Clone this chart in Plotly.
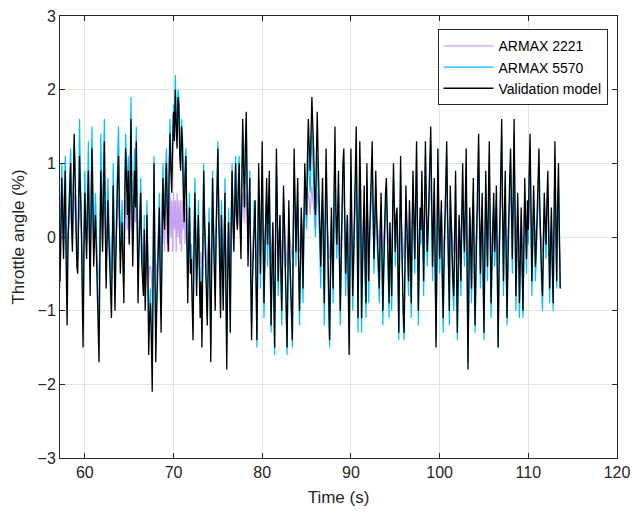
import numpy as np
import plotly.graph_objects as go

t_start = 57.2
t_step = 0.1

validation = [
    -0.6, 0.2, 0.8, 0.3, -0.3, 0.5, 0.9, -0.4, -1.2, -0.1, 0.4, 0.7, 1.0, 0.2, -0.2, 0.6, 1.4, 0.8, 0.1, -0.4,
    -0.5, 0.4, 1.1, 0.6, 0.2, -0.7, -1.5, -0.2, 0.6, 0.1, -0.3, 0.4, 0.9, 0.1, -0.8, 0.3, 1.2, 0.5, -0.4, 0.0,
    0.3, -0.2, -0.6, -1.1, -1.7, -0.3, 0.9, 0.4, -0.2, 0.6, 1.3, 0.2, -0.7, -0.1, 0.5, 0.0, -0.3, -0.8, -1.1, -0.2,
    0.7, -0.2, -1.0, -0.3, 0.4, 0.8, 1.1, 0.3, -0.5, -0.1, 0.2, -0.4, -0.9, 0.4, 1.2, 0.8, 0.3, 0.9, -0.1, 0.6,
    1.6, 0.5, -0.4, 0.3, 0.9, 0.4, 1.3, 0.2, -0.9, -0.2, 0.1, 0.6, -0.3, -0.6, -0.8, 0.1, -1.0, -0.5, 0.3, -0.4,
    -1.6, -1.1, -0.9, -1.4, -2.1, -0.5, 1.0, -0.4, -1.7, -1.0, -0.6, -0.1, 0.4, -0.6, -1.3, -0.2, 0.8, 0.3, 0.1, 0.7,
    1.0, 0.3, -0.2, 0.8, 1.4, 0.9, 0.6, 1.2, 1.7, 1.3, 2.0, 1.5, 1.2, 1.9, 1.8, 1.1, 0.9, 1.5, 1.3, 0.6,
    0.2, 0.8, 1.1, 0.1, -0.9, -0.2, 0.4, -0.5, -0.3, -0.9, -1.4, -0.3, 0.6, 0.0, -0.8, -0.2, 0.3, -0.4, -1.1, -0.6,
    -1.5, -0.3, 0.9, 0.2, -0.4, -0.9, -1.2, -0.5, 0.2, -0.6, -1.7, -0.4, 0.8, 0.1, -0.6, -1.0, 0.0, 0.5, 1.2, 0.3,
    -0.5, -1.1, 0.3, -0.4, -1.0, -0.2, 0.6, -0.7, -1.8, -0.6, 0.2, -0.5, -1.3, 0.1, 0.9, 0.2, -0.2, 0.4, 1.0, 0.3,
    0.1, 0.6, 1.0, 0.2, -0.3, 0.7, 1.6, 0.9, 0.4, 1.2, 1.7, 0.6, -0.4, 0.3, 0.8, -0.5, -1.4, -0.6, -0.2, 0.4,
    0.5, -0.6, -1.4, -0.2, 1.0, 0.3, -0.5, 0.4, 1.3, 0.1, -0.9, -0.2, 0.4, 0.8, -0.1, 0.5, 0.9, -0.3, -1.2, -0.4,
    0.2, -0.7, -1.5, -0.1, 1.2, 0.4, -0.6, -0.1, 0.3, -0.4, -1.0, -0.2, 0.7, 0.2, -0.3, -0.9, -1.5, -0.5, 0.5, -0.2,
    -0.6, -0.9, -1.4, 0.1, 1.2, 0.5, -0.2, 0.3, 0.8, -0.3, -1.0, -0.4, 0.4, 0.0, -0.7, 0.2, 1.0, 0.6, 0.3, 1.1,
    1.6, 1.2, 0.9, 1.4, 1.9, 1.5, 1.2, 0.6, 0.3, 1.0, 1.7, 1.1, 0.6, 0.1, -0.4, 0.3, 0.8, -0.1, -0.9, 0.2,
    1.2, 0.5, -0.3, -0.8, -1.4, -0.4, 0.4, -0.2, -0.7, 0.6, 1.5, 0.4, -0.1, 0.3, 0.9, -0.2, -1.0, -0.3, 0.6, 1.0,
    1.2, 0.4, -0.5, -0.1, 0.3, -0.6, -1.6, -0.2, 1.2, 0.2, -0.8, -0.3, 0.4, 0.9, 1.5, 0.2, -1.1, 0.1, 1.3, 0.6,
    -1.1, -0.4, 0.2, 0.7, -0.4, -0.9, 1.0, 0.3, -0.6, 0.0, 0.5, 0.9, 1.3, 0.4, -0.3, 0.2, 0.9, 0.3, -0.1, -0.5,
    -0.7, 0.1, 0.6, -0.2, -1.0, -0.4, 0.3, 0.6, 0.8, 0.2, -0.4, -0.9, 0.2, -0.3, -0.8, 0.3, 1.0, 0.4, -0.2, 0.3,
    0.4, -0.4, -1.3, 0.0, 1.1, 0.2, -0.5, -1.0, -1.3, -0.1, 0.7, 0.2, -0.2, -0.6, 0.5, 0.0, -0.9, 0.1, 0.9, 0.3,
    -0.3, 0.5, 1.3, 0.2, -1.0, -0.3, 0.4, 0.1, 0.9, 0.2, -0.6, 0.4, 1.3, 0.5, -0.2, 0.1, 0.6, 1.1, 1.5, 0.6,
    -0.4, 0.2, 0.8, -0.4, -1.5, -0.2, 1.2, 0.4, -0.3, 0.1, 0.5, -0.5, -1.1, -0.3, 0.2, 0.7, 1.3, 0.3, -0.5, -1.0,
    0.7, 0.2, -0.2, -0.6, -0.8, 0.1, 0.9, -0.3, -1.3, -0.4, 0.3, -0.1, -0.6, 0.3, 1.0, 0.2, -0.2, 0.5, 1.2, -0.4,
    -1.8, -0.6, 0.4, -0.1, -0.7, 0.2, 0.8, -0.3, -1.2, -0.4, 0.2, 0.8, 1.4, 0.3, -0.5, 0.1, 0.6, -0.4, -1.3, -0.2,
    0.9, 0.2, -0.4, 0.5, 1.3, 0.2, -0.9, -0.3, 0.3, 0.6, -0.2, 0.1, 0.7, -0.5, -1.5, -0.4, 0.4, 0.9, 1.6, 0.4,
    -0.6, 0.3, 0.9, -0.2, -1.1, -0.3, 0.5, 0.8, 1.2, 0.3, -0.3, 0.6, 1.6, 0.4, -0.8, -0.2, 0.6, 0.0, -0.9, -0.3,
    0.4, -0.3, -1.0, -0.1, 0.8, 0.2, -0.3, 0.5, 0.1, 0.9, 1.4, 0.4, -0.6, 0.0, 0.7, 0.2, -0.4, -0.1, 0.3, 0.8,
    1.2, 0.4, -0.2, -0.5, -0.8, 0.0, 0.6, 0.2, -0.1, 0.5, 0.9, 0.1, -0.7, -0.2, 0.4, -0.3, -0.9, 0.2, 1.3, 0.3,
    -0.6, 0.4, 1.0, 0.1, -0.7,
]

armax_5570 = [
    -0.4, 0.5, 1.0, 0.5, -0.1, 0.7, 1.1, -0.2, -0.9, 0.1, 0.6, 0.9, 1.2, 0.4, 0.1, 0.8, 1.3, 1.0, 0.3, -0.2,
    -0.3, 0.7, 1.6, 0.8, 0.4, -0.4, -1.2, 0.1, 0.9, 0.3, -0.1, 0.6, 1.3, 0.4, -0.5, 0.6, 1.5, 0.8, -0.2, 0.2,
    0.6, 0.1, -0.4, -0.8, -1.3, 0.0, 1.4, 0.7, 0.1, 0.9, 1.6, 0.5, -0.5, 0.2, 0.8, 0.3, 0.0, -0.5, -0.7, 0.1,
    1.0, 0.1, -0.7, 0.0, 0.7, 1.1, 1.5, 0.6, -0.2, 0.2, 0.5, -0.1, -0.6, 0.7, 1.4, 1.0, 0.6, 1.1, 0.2, 0.9,
    1.9, 0.8, -0.1, 0.6, 1.2, 0.7, 1.5, 0.5, -0.6, 0.1, 0.4, 0.8, 0.0, -0.3, -0.5, 0.3, -0.8, -0.3, 0.5, -0.2,
    -1.4, -0.9, -0.7, -1.2, -1.8, -0.3, 1.1, -0.2, -1.4, -0.8, -0.4, 0.1, 0.6, -0.4, -1.1, 0.0, 1.0, 0.5, 0.3, 0.9,
    1.2, 0.5, 0.0, 1.0, 1.6, 1.1, 0.8, 1.4, 1.8, 1.5, 2.2, 1.7, 1.4, 2.0, 1.9, 1.3, 1.0, 1.6, 1.4, 0.8,
    0.4, 1.0, 1.2, 0.3, -0.7, 0.0, 0.6, -0.3, -0.1, -0.7, -1.2, -0.1, 0.8, 0.2, -0.6, 0.0, 0.5, -0.2, -0.9, -0.4,
    -1.3, -0.1, 1.0, 0.4, -0.2, -0.7, -1.0, -0.3, 0.4, -0.4, -1.5, -0.2, 0.9, 0.3, -0.4, -0.8, 0.2, 0.7, 1.3, 0.5,
    -0.4, -0.9, 0.5, -0.2, -0.8, 0.0, 0.8, -0.5, -1.6, -0.4, 0.4, -0.3, -1.1, 0.3, 1.0, 0.4, 0.0, 0.6, 1.1, 0.5,
    0.3, 0.8, 1.1, 0.4, -0.1, 0.8, 1.5, 1.0, 0.6, 1.3, 1.6, 0.7, -0.2, 0.4, 0.9, -0.3, -1.2, -0.4, 0.0, 0.5,
    0.4, -0.8, -1.5, -0.4, 0.8, 0.1, -0.7, 0.2, 1.0, -0.1, -1.1, -0.4, 0.2, 0.6, -0.4, 0.3, 0.7, -0.5, -1.3, -0.6,
    0.0, -0.9, -1.6, -0.3, 1.0, 0.2, -0.8, -0.3, 0.1, -0.6, -1.2, -0.4, 0.5, 0.0, -0.5, -1.1, -1.6, -0.7, 0.3, -0.4,
    -0.8, -1.1, -1.5, -0.1, 1.0, 0.3, -0.4, 0.1, 0.6, -0.5, -1.2, -0.6, 0.2, -0.2, -0.9, 0.0, 0.8, 0.4, 0.1, 0.8,
    1.2, 0.8, 0.6, 1.0, 1.5, 1.1, 0.8, 0.3, 0.0, 0.6, 1.1, 0.7, 0.3, -0.2, -0.7, 0.1, 0.5, -0.4, -1.2, 0.0,
    0.9, 0.2, -0.6, -1.1, -1.5, -0.6, 0.2, -0.4, -0.9, 0.4, 1.2, 0.2, -0.3, 0.1, 0.6, -0.4, -1.2, -0.5, 0.4, 0.8,
    1.0, 0.2, -0.8, -0.3, 0.1, -0.8, -1.5, -0.4, 0.9, 0.0, -1.0, -0.5, 0.2, 0.7, 1.2, 0.0, -1.3, -0.1, 1.1, 0.4,
    -1.3, -0.6, 0.0, 0.5, -0.6, -1.1, 0.8, 0.1, -0.9, -0.2, 0.3, 0.7, 1.1, 0.2, -0.5, 0.0, 0.7, 0.1, -0.3, -0.7,
    -0.9, -0.1, 0.4, -0.4, -1.2, -0.6, 0.1, 0.4, 0.6, 0.0, -0.7, -1.1, 0.0, -0.5, -1.0, 0.1, 0.8, 0.2, -0.4, 0.1,
    0.2, -0.6, -1.4, -0.2, 0.9, 0.0, -0.7, -1.2, -1.4, -0.3, 0.5, 0.0, -0.4, -0.8, 0.3, -0.2, -1.1, -0.1, 0.7, 0.1,
    -0.5, 0.3, 1.1, 0.0, -1.2, -0.5, 0.2, -0.1, 0.7, 0.0, -0.8, 0.2, 1.1, 0.3, -0.4, -0.1, 0.4, 0.9, 1.3, 0.4,
    -0.6, 0.0, 0.6, -0.6, -1.4, -0.4, 1.0, 0.2, -0.5, -0.1, 0.3, -0.7, -1.3, -0.5, 0.0, 0.5, 1.1, 0.1, -0.7, -1.2,
    0.5, 0.0, -0.4, -0.8, -1.0, -0.1, 0.7, -0.5, -1.4, -0.6, 0.1, -0.3, -0.8, 0.1, 0.8, 0.0, -0.4, 0.3, 1.0, -0.6,
    -1.7, -0.8, 0.2, -0.3, -0.9, 0.0, 0.6, -0.5, -1.3, -0.6, 0.0, 0.6, 1.2, 0.1, -0.7, -0.1, 0.4, -0.6, -1.4, -0.4,
    0.7, 0.0, -0.6, 0.3, 1.1, 0.0, -1.1, -0.5, 0.1, 0.4, -0.4, -0.1, 0.5, -0.7, -1.5, -0.6, 0.2, 0.7, 1.4, 0.2,
    -0.8, 0.1, 0.7, -0.4, -1.2, -0.5, 0.3, 0.6, 1.0, 0.1, -0.5, 0.4, 1.4, 0.2, -1.0, -0.4, 0.4, -0.2, -1.1, -0.5,
    0.2, -0.5, -1.1, -0.3, 0.6, 0.0, -0.5, 0.3, -0.1, 0.7, 1.2, 0.2, -0.8, -0.2, 0.5, 0.0, -0.6, -0.3, 0.1, 0.6,
    1.0, 0.2, -0.4, -0.7, -1.0, -0.2, 0.4, 0.0, -0.3, 0.3, 0.7, -0.1, -0.9, -0.4, 0.2, -0.5, -1.0, 0.0, 1.1, 0.1,
    -0.7, 0.2, 0.8, -0.1, -0.7,
]

armax_2221 = [
    -0.7, -0.2, 0.3, 0.1, -0.2, 0.2, 0.4, -0.1, -0.4, 0.0, 0.2, 0.4, 0.5, 0.1, -0.1, 0.3, 0.6, 0.3, 0.0, -0.2,
    -0.3, 0.2, 0.5, 0.2, 0.1, -0.2, -0.5, 0.0, 0.3, 0.1, -0.1, 0.2, 0.4, 0.0, -0.3, 0.1, 0.5, 0.2, -0.2, 0.0,
    0.2, -0.1, -0.3, -0.4, -0.6, -0.1, 0.4, 0.2, -0.1, 0.3, 0.5, 0.1, -0.3, 0.0, 0.3, 0.0, -0.1, -0.3, -0.4, 0.0,
    0.3, -0.1, -0.4, -0.1, 0.2, 0.4, 0.5, 0.1, -0.2, 0.0, 0.1, -0.2, -0.4, 0.2, 0.5, 0.3, 0.1, 0.4, -0.1, 0.2,
    0.6, 0.2, -0.2, 0.1, 0.4, 0.2, 0.5, 0.1, -0.4, -0.1, 0.0, 0.3, -0.2, -0.3, -0.4, 0.0, -0.5, -0.2, 0.2, -0.2,
    -0.6, -0.4, -0.4, -0.5, -0.8, -0.2, 0.8, 0.0, -0.6, -0.4, -0.3, 0.0, 0.2, -0.2, -0.2, 0.6, -0.1, 0.6, -0.2, 0.5,
    0.6, -0.1, 0.5, -0.2, 0.6, 0.0, 0.5, -0.2, 0.6, 0.1, 0.5, -0.2, 0.6, 0.0, 0.5, -0.1, 0.5, -0.2, 0.5, 0.1,
    0.5, -0.1, 0.4, -0.2, -0.3, 0.0, 0.3, -0.1, -0.1, -0.3, -0.5, -0.1, 0.3, 0.0, -0.3, -0.1, 0.2, -0.1, -0.4, -0.2,
    -0.5, -0.1, 0.6, 0.1, -0.1, -0.3, -0.4, -0.1, 0.2, -0.2, -0.5, -0.1, 0.6, 0.1, -0.2, -0.3, 0.1, 0.4, 0.7, 0.2,
    -0.1, -0.3, 0.3, 0.0, -0.3, 0.0, 0.4, -0.2, -0.5, -0.1, 0.2, -0.1, -0.4, 0.2, 0.6, 0.2, 0.0, 0.3, 0.6, 0.2,
    0.1, 0.3, 0.5, 0.1, -0.1, 0.3, 0.6, 0.4, 0.2, 0.5, 0.6, 0.2, -0.1, 0.1, 0.4, -0.2, -0.4, -0.1, 0.0, 0.2,
    0.3, -0.1, -0.4, 0.1, 0.6, 0.2, -0.1, 0.2, 0.6, 0.1, -0.2, 0.0, 0.3, 0.5, 0.0, 0.3, 0.6, 0.0, -0.3, -0.1,
    0.2, -0.2, -0.4, 0.1, 0.6, 0.2, -0.1, 0.1, 0.3, -0.1, -0.3, 0.0, 0.5, 0.2, 0.0, -0.2, -0.4, -0.1, 0.4, 0.0,
    -0.1, -0.2, -0.3, 0.2, 0.7, 0.3, 0.0, 0.2, 0.5, 0.0, -0.2, 0.0, 0.3, 0.1, -0.2, 0.1, 0.6, 0.4, 0.2, 0.5,
    0.6, 0.5, 0.3, 0.5, 0.7, 0.5, 0.4, 0.2, 0.1, 0.4, 0.6, 0.4, 0.3, 0.1, -0.1, 0.2, 0.5, 0.1, -0.2, 0.1,
    0.6, 0.2, 0.0, -0.2, -0.3, 0.0, 0.3, 0.0, -0.1, 0.3, 0.7, 0.3, 0.1, 0.3, 0.5, 0.1, -0.2, 0.0, 0.4, 0.6,
    0.6, 0.2, -0.1, 0.1, 0.3, -0.1, -0.4, 0.0, 0.6, 0.1, -0.2, 0.0, 0.3, 0.5, 0.7, 0.1, -0.3, 0.1, 0.6, 0.3,
    -0.2, 0.0, 0.2, 0.4, 0.0, -0.1, 0.5, 0.2, -0.1, 0.1, 0.4, 0.5, 0.6, 0.3, 0.0, 0.2, 0.5, 0.3, 0.1, 0.0,
    -0.1, 0.2, 0.4, 0.0, -0.2, 0.0, 0.3, 0.4, 0.5, 0.2, 0.0, -0.1, 0.2, 0.0, -0.2, 0.2, 0.6, 0.3, 0.0, 0.2,
    0.3, 0.0, -0.3, 0.1, 0.6, 0.2, 0.0, -0.2, -0.3, 0.1, 0.5, 0.2, 0.1, 0.0, 0.4, 0.1, -0.2, 0.2, 0.6, 0.3,
    0.0, 0.3, 0.6, 0.2, -0.2, 0.0, 0.3, 0.2, 0.5, 0.2, 0.0, 0.3, 0.6, 0.3, 0.1, 0.2, 0.4, 0.6, 0.7, 0.3,
    0.0, 0.2, 0.5, 0.0, -0.3, 0.1, 0.6, 0.3, 0.0, 0.2, 0.4, 0.0, -0.2, 0.0, 0.2, 0.4, 0.6, 0.2, -0.1, -0.2,
    0.4, 0.2, 0.0, -0.1, -0.2, 0.1, 0.5, 0.0, -0.3, 0.0, 0.3, 0.1, -0.1, 0.2, 0.5, 0.2, 0.0, 0.3, 0.6, 0.0,
    -0.4, -0.1, 0.3, 0.1, -0.1, 0.2, 0.5, 0.0, -0.3, 0.0, 0.2, 0.4, 0.6, 0.2, 0.0, 0.2, 0.4, 0.0, -0.3, 0.0,
    0.5, 0.2, 0.0, 0.3, 0.6, 0.2, -0.2, 0.0, 0.3, 0.4, 0.0, 0.2, 0.5, 0.0, -0.3, 0.0, 0.3, 0.5, 0.7, 0.3,
    -0.1, 0.2, 0.5, 0.0, -0.2, 0.1, 0.4, 0.5, 0.6, 0.2, 0.0, 0.4, 0.7, 0.3, -0.1, 0.1, 0.4, 0.1, -0.2, 0.0,
    0.3, 0.0, -0.2, 0.1, 0.5, 0.2, 0.0, 0.2, 0.1, 0.4, 0.6, 0.2, -0.1, 0.1, 0.4, 0.1, 0.0, 0.1, 0.2, 0.4,
    0.6, 0.2, 0.0, -0.1, -0.2, 0.1, 0.4, 0.2, 0.0, 0.3, 0.5, 0.1, -0.2, 0.0, 0.3, 0.0, -0.3, 0.2, 0.6, 0.2,
    -0.3, 0.2, 0.5, 0.0, -0.4,
]

x_ticks = [60, 70, 80, 90, 100, 110, 120]
y_ticks = [-3, -2, -1, 0, 1, 2, 3]

t = t_start + t_step * np.arange(len(validation))

fig = go.Figure()
fig.add_trace(go.Scatter(x=t, y=armax_2221, mode="lines", name="ARMAX 2221",
                         line=dict(color="#c8a2f2", width=1.2)))
fig.add_trace(go.Scatter(x=t, y=armax_5570, mode="lines", name="ARMAX 5570",
                         line=dict(color="#00bfff", width=1.2)))
fig.add_trace(go.Scatter(x=t, y=validation, mode="lines", name="Validation model",
                         line=dict(color="#000000", width=1.3)))

axis_common = dict(
    showline=True, linecolor="#262626", linewidth=1, mirror="ticks",
    ticks="inside", ticklen=5, tickcolor="#262626",
    showgrid=True, gridcolor="#e3e3e3", gridwidth=1,
    zeroline=False, tickfont=dict(family="Liberation Sans, Arial", size=16, color="#262626"),
)

fig.update_layout(
    width=638, height=519,
    margin=dict(l=60, r=16, t=8, b=61),
    paper_bgcolor="white", plot_bgcolor="white",
    font=dict(family="Liberation Sans, Arial", color="#262626"),
    xaxis=dict(range=[57.2, 120], tickvals=x_ticks,
               title=dict(text="Time (s)", font=dict(size=17, color="#262626"), standoff=10),
               **axis_common),
    yaxis=dict(range=[-3, 3], tickvals=y_ticks,
               title=dict(text="Throttle angle (%)", font=dict(size=17, color="#262626"), standoff=8),
               **axis_common),
    legend=dict(x=0.983, y=0.97, xanchor="right", yanchor="top",
                bgcolor="white", bordercolor="#262626", borderwidth=1,
                font=dict(size=14, color="#000000"), tracegroupgap=0,
                itemwidth=50),
    showlegend=True,
)

fig.write_html("out.html")
